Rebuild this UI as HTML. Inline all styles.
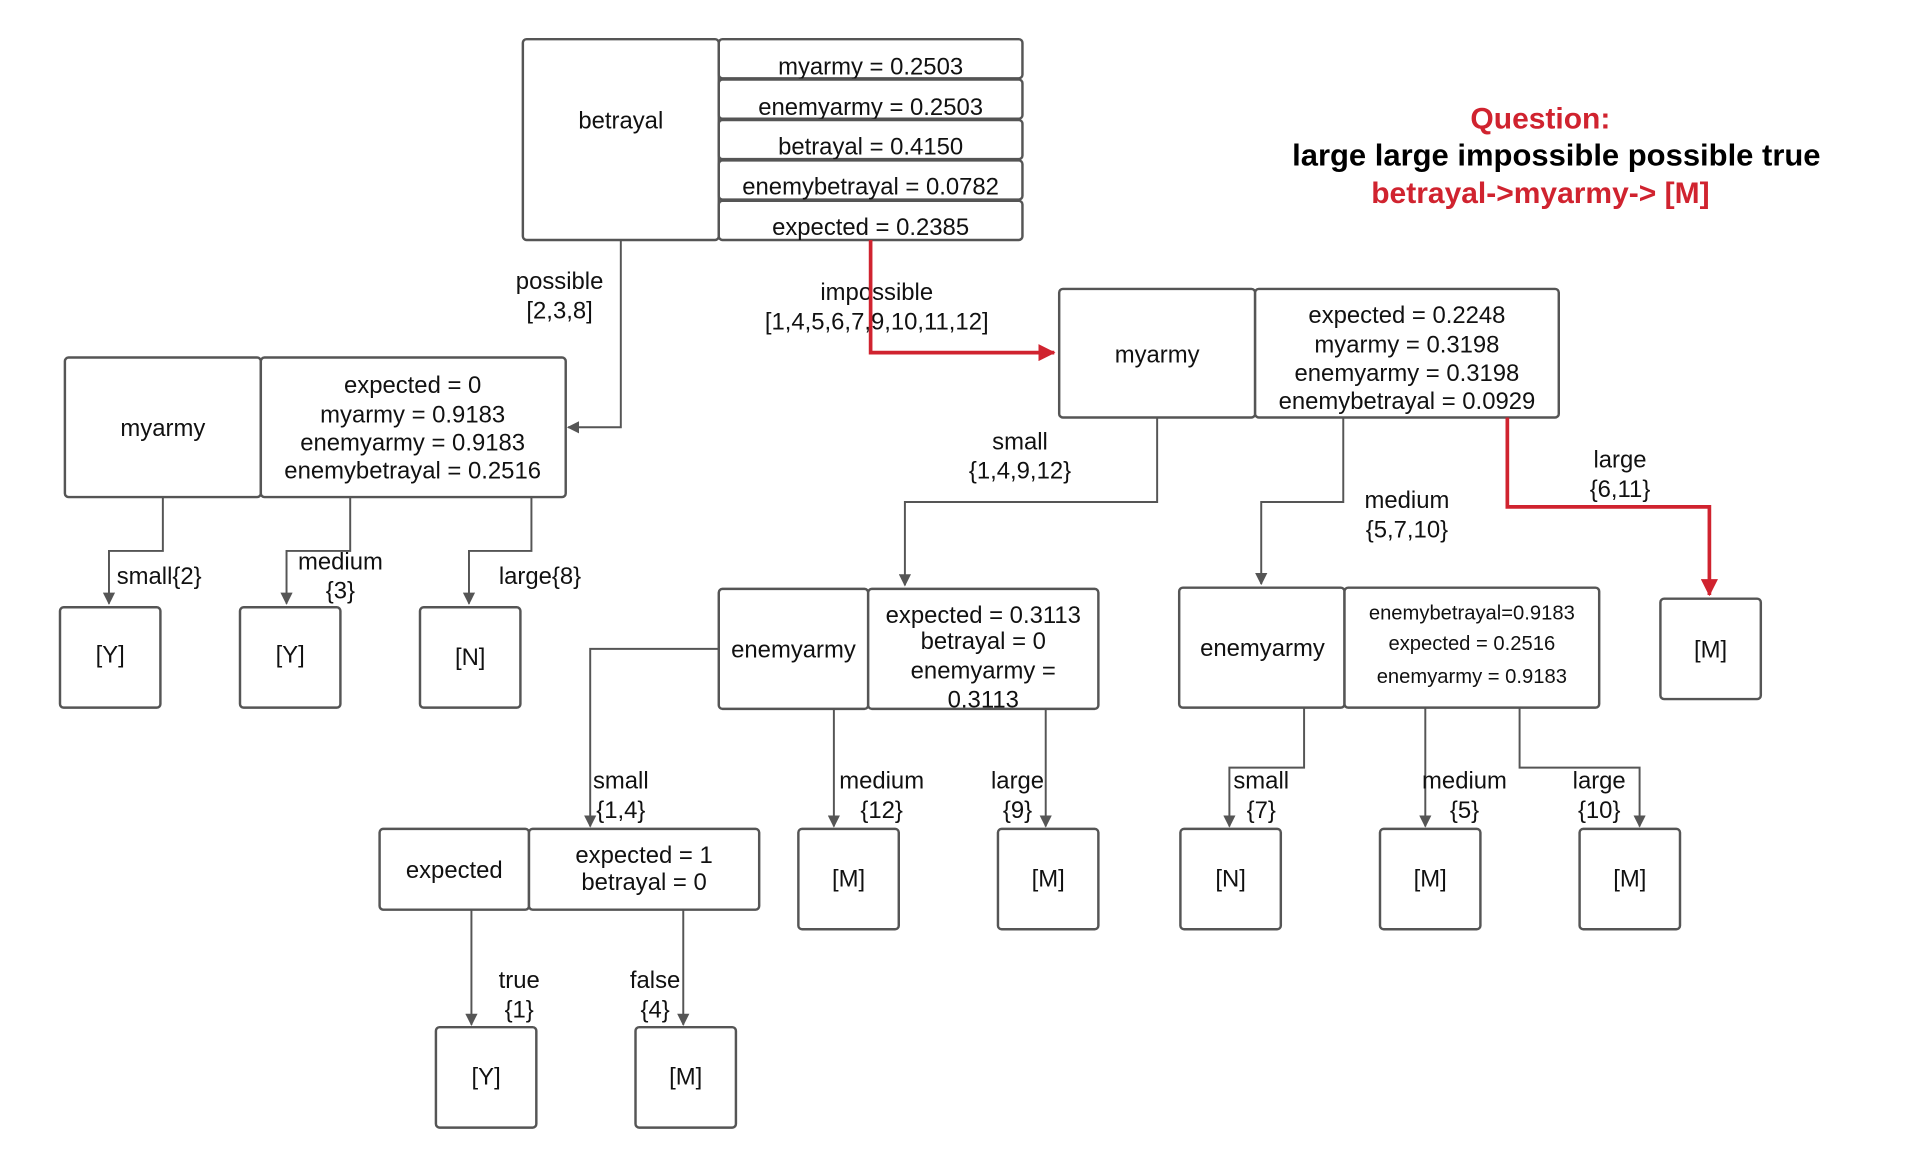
<!DOCTYPE html>
<html><head><meta charset="utf-8"><style>
html,body{margin:0;padding:0;background:#fff;}
svg{display:block;}
text{font-family:"Liberation Sans",Arial,sans-serif;font-size:19.5px;fill:#111;text-anchor:middle;}
.b{fill:#fff;stroke:#555;stroke-width:2;}
.l{fill:none;stroke:#555;stroke-width:1.6;}
.r{fill:none;stroke:#d0232f;stroke-width:3;}
</style></head><body>
<svg width="1920" height="1168" viewBox="0 0 1568 954" preserveAspectRatio="none" xmlns="http://www.w3.org/2000/svg">
<defs>
<marker id="a" markerWidth="10" markerHeight="10" refX="9" refY="5" orient="auto" markerUnits="userSpaceOnUse"><path d="M0,0 L10,5 L0,10 z" fill="#555"/></marker>
<marker id="ar" markerWidth="14" markerHeight="14" refX="13" refY="7" orient="auto" markerUnits="userSpaceOnUse"><path d="M0,0 L14,7 L0,14 z" fill="#d0232f"/></marker>
</defs>
<rect class="b" x="427" y="32" width="160" height="164" rx="3"/>
<text x="507" y="105">betrayal</text>
<rect class="b" x="587" y="32" width="248" height="32" rx="3"/><text x="711" y="61">myarmy = 0.2503</text>
<rect class="b" x="587" y="65" width="248" height="32" rx="3"/><text x="711" y="94">enemyarmy = 0.2503</text>
<rect class="b" x="587" y="98" width="248" height="32" rx="3"/><text x="711" y="126">betrayal = 0.4150</text>
<rect class="b" x="587" y="131" width="248" height="32" rx="3"/><text x="711" y="159">enemybetrayal = 0.0782</text>
<rect class="b" x="587" y="164" width="248" height="32" rx="3"/><text x="711" y="192">expected = 0.2385</text>
<path class="l" d="M507,196 V349 H464" marker-end="url(#a)"/>
<text x="457" y="236">possible</text><text x="457" y="260">[2,3,8]</text>
<text x="716" y="245">impossible</text><text x="716" y="269">[1,4,5,6,7,9,10,11,12]</text>
<path class="r" d="M711,196 V288 H861" marker-end="url(#ar)"/>
<rect class="b" x="53" y="292" width="160" height="114" rx="3"/><text x="133" y="356">myarmy</text>
<rect class="b" x="213" y="292" width="249" height="114" rx="3"/>
<text x="337" y="321">expected = 0</text><text x="337" y="345">myarmy =  0.9183</text><text x="337" y="368">enemyarmy =  0.9183</text><text x="337" y="391">enemybetrayal = 0.2516</text>
<path class="l" d="M133,406 V450 H89 V493" marker-end="url(#a)"/>
<path class="l" d="M286,406 V450 H234 V493" marker-end="url(#a)"/>
<path class="l" d="M434,406 V450 H383 V493" marker-end="url(#a)"/>
<text x="130" y="477">small{2}</text><text x="278" y="465">medium</text><text x="278" y="489">{3}</text><text x="441" y="477">large{8}</text>
<rect class="b" x="49" y="496" width="82" height="82" rx="3"/><text x="90" y="541">[Y]</text>
<rect class="b" x="196" y="496" width="82" height="82" rx="3"/><text x="237" y="541">[Y]</text>
<rect class="b" x="343" y="496" width="82" height="82" rx="3"/><text x="384" y="543">[N]</text>
<rect class="b" x="865" y="236" width="160" height="105" rx="3"/><text x="945" y="296">myarmy</text>
<rect class="b" x="1025" y="236" width="248" height="105" rx="3"/>
<text x="1149" y="264">expected = 0.2248</text><text x="1149" y="288">myarmy = 0.3198</text><text x="1149" y="311">enemyarmy = 0.3198</text><text x="1149" y="334">enemybetrayal = 0.0929</text>
<path class="l" d="M945,341 V410 H739 V478" marker-end="url(#a)"/>
<text x="833" y="367">small</text><text x="833" y="391">{1,4,9,12}</text>
<path class="l" d="M1097,341 V410 H1030 V477" marker-end="url(#a)"/>
<text x="1149" y="415">medium</text><text x="1149" y="439">{5,7,10}</text>
<path class="r" d="M1231,341 V414 H1396 V486" marker-end="url(#ar)"/>
<text x="1323" y="382">large</text><text x="1323" y="406">{6,11}</text>
<rect class="b" x="1356" y="489" width="82" height="82" rx="3"/><text x="1397" y="537">[M]</text>
<rect class="b" x="587" y="481" width="122" height="98" rx="3"/><text x="648" y="537">enemyarmy</text>
<rect class="b" x="709" y="481" width="188" height="98" rx="3"/>
<text x="803" y="509">expected = 0.3113</text><text x="803" y="530">betrayal = 0</text><text x="803" y="554">enemyarmy =</text><text x="803" y="578">0.3113</text>
<path class="l" d="M587,530 H482 V675" marker-end="url(#a)"/>
<text x="507" y="644">small</text><text x="507" y="668">{1,4}</text>
<path class="l" d="M681,579 V675" marker-end="url(#a)"/>
<text x="720" y="644">medium</text><text x="720" y="668">{12}</text>
<path class="l" d="M854,579 V675" marker-end="url(#a)"/>
<text x="831" y="644">large</text><text x="831" y="668">{9}</text>
<rect class="b" x="652" y="677" width="82" height="82" rx="3"/><text x="693" y="724">[M]</text>
<rect class="b" x="815" y="677" width="82" height="82" rx="3"/><text x="856" y="724">[M]</text>
<rect class="b" x="310" y="677" width="122" height="66" rx="3"/><text x="371" y="717">expected</text>
<rect class="b" x="432" y="677" width="188" height="66" rx="3"/>
<text x="526" y="705">expected = 1</text><text x="526" y="727">betrayal = 0</text>
<path class="l" d="M385,743 V837" marker-end="url(#a)"/>
<text x="424" y="807">true</text><text x="424" y="831">{1}</text>
<path class="l" d="M558,743 V837" marker-end="url(#a)"/>
<text x="535" y="807">false</text><text x="535" y="831">{4}</text>
<rect class="b" x="356" y="839" width="82" height="82" rx="3"/><text x="397" y="886">[Y]</text>
<rect class="b" x="519" y="839" width="82" height="82" rx="3"/><text x="560" y="886">[M]</text>
<rect class="b" x="963" y="480" width="135" height="98" rx="3"/><text x="1031" y="536">enemyarmy</text>
<rect class="b" x="1098" y="480" width="208" height="98" rx="3"/>
<text x="1202" y="506" style="font-size:16.5px">enemybetrayal=0.9183</text><text x="1202" y="531" style="font-size:16.5px">expected = 0.2516</text><text x="1202" y="558" style="font-size:16.5px">enemyarmy = 0.9183</text>
<path class="l" d="M1065,578 V627 H1004 V675" marker-end="url(#a)"/>
<text x="1030" y="644">small</text><text x="1030" y="668">{7}</text>
<path class="l" d="M1164,578 V675" marker-end="url(#a)"/>
<text x="1196" y="644">medium</text><text x="1196" y="668">{5}</text>
<path class="l" d="M1241,578 V627 H1339 V675" marker-end="url(#a)"/>
<text x="1306" y="644">large</text><text x="1306" y="668">{10}</text>
<rect class="b" x="964" y="677" width="82" height="82" rx="3"/><text x="1005" y="724">[N]</text>
<rect class="b" x="1127" y="677" width="82" height="82" rx="3"/><text x="1168" y="724">[M]</text>
<rect class="b" x="1290" y="677" width="82" height="82" rx="3"/><text x="1331" y="724">[M]</text>
<text x="1258" y="105" style="font-size:24.5px;font-weight:bold;fill:#d0232f">Question:</text>
<text x="1271" y="135" style="font-size:25.3px;font-weight:bold;fill:#000">large large impossible possible true</text>
<text x="1258" y="166" style="font-size:24.5px;font-weight:bold;fill:#d0232f">betrayal-&gt;myarmy-&gt; [M]</text>
</svg>
</body></html>
